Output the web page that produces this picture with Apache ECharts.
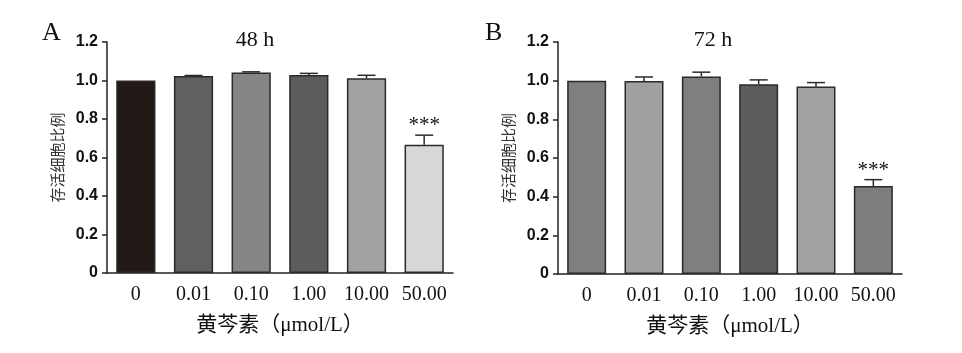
<!DOCTYPE html>
<html>
<head>
<meta charset="utf-8">
<script src="https://cdn.jsdelivr.net/npm/echarts@6/dist/echarts.min.js"></script>
<style>
  html, body { margin: 0; padding: 0; background: #fff; }
  #main { width: 962px; height: 353px; }
</style>
</head>
<body>
<div id="main"></div>
<script>
// 数据
var categories = ['0', '0.01', '0.10', '1.00', '10.00', '50.00'];
var yTicks = [0, 0.2, 0.4, 0.6, 0.8, 1.0, 1.2];

var values48 = [1.0, 1.023, 1.042, 1.028, 1.012, 0.666];
var errors48 = [0, 0.003, 0.003, 0.009, 0.015, 0.05];
var sig48 = ['', '', '', '', '', '***'];

var values72 = [1.0, 0.998, 1.022, 0.982, 0.970, 0.455];
var errors72 = [0, 0.021, 0.022, 0.022, 0.02, 0.033];
var sig72 = ['', '', '', '', '', '***'];

// 柱子颜色（按顺序）
var colors48 = ['#231a18', '#5f6161', '#858586', '#5b5d5d', '#a2a2a4', '#d6d8d7'];
var colors72 = ['#7f7f80', '#a0a0a2', '#7f7f80', '#5c5e5e', '#a2a2a4', '#7d7d7e'];

var serif = '"Liberation Serif", "Noto Sans CJK SC", serif';
var sans = '"Liberation Sans", Arial, sans-serif';

var myChart = echarts.init(document.getElementById('main'));

function xAxisOf(gridIndex) {
  return {
    type: 'category',
    gridIndex: gridIndex,
    data: categories,
    name: '黄芩素（μmol/L）',
    nameLocation: 'middle',
    nameGap: 42,
    nameTextStyle: { fontFamily: serif, fontSize: 21, color: '#111', verticalAlign: 'top' },
    axisLine: { lineStyle: { color: '#222', width: 1.5 } },
    axisTick: { alignWithLabel: true, length: 5, lineStyle: { color: '#222', width: 1.5 } },
    axisLabel: { interval: 0, hideOverlap: false, fontFamily: serif, fontSize: 20, color: '#111', margin: 12 },
    splitLine: { show: false }
  };
}

function yAxisOf(gridIndex) {
  return {
    type: 'value',
    gridIndex: gridIndex,
    min: yTicks[0],
    max: yTicks[yTicks.length - 1],
    interval: 0.2,
    name: '存活细胞比例',
    nameLocation: 'middle',
    nameGap: 42,
    nameRotate: 90,
    nameTextStyle: { fontFamily: '"Noto Sans CJK SC", sans-serif', fontSize: 15, color: '#333' },
    axisLine: { show: true, lineStyle: { color: '#222', width: 1.5 } },
    axisTick: { show: true, length: 5, lineStyle: { color: '#222', width: 1.5 } },
    axisLabel: {
      fontFamily: sans, fontSize: 16, fontWeight: 'bold', color: '#111', margin: 9,
      formatter: function (v) { return v === 0 ? '0' : v.toFixed(1); }
    },
    splitLine: { show: false }
  };
}

function barSeries(idx, values, colorList) {
  return {
    type: 'bar',
    xAxisIndex: idx,
    yAxisIndex: idx,
    barWidth: '68%',
    itemStyle: {
      borderColor: '#2a2a2a',
      borderWidth: 1.5,
      color: function (params) { return colorList[params.dataIndex]; }
    },
    data: values,
    z: 2
  };
}

// 误差线 + 显著性标记
function errSeries(idx, values, errors, sig) {
  return {
    type: 'custom',
    xAxisIndex: idx,
    yAxisIndex: idx,
    z: 3,
    data: values.map(function (v, i) { return [i, v, v + errors[i]]; }),
    renderItem: function (params, api) {
      var i = api.value(0);
      var base = api.coord([i, api.value(1)]);
      var top = api.coord([i, api.value(2)]);
      var half = 9;
      var children = [];
      if (errors[i] > 0) {
        children.push({
          type: 'line',
          shape: { x1: base[0], y1: base[1], x2: top[0], y2: top[1] },
          style: { stroke: '#2a2a2a', lineWidth: 1.5 }
        });
        children.push({
          type: 'line',
          shape: { x1: top[0] - half, y1: top[1], x2: top[0] + half, y2: top[1] },
          style: { stroke: '#2a2a2a', lineWidth: 1.5 }
        });
      }
      if (sig[i]) {
        children.push({
          type: 'text',
          style: {
            text: sig[i], x: top[0], y: top[1] + 1,
            align: 'center', verticalAlign: 'bottom',
            font: '21px ' + serif, fill: '#111'
          }
        });
      }
      return { type: 'group', children: children };
    }
  };
}

myChart.setOption({
  backgroundColor: '#fff',
  animation: false,
  title: [
    { text: 'A', left: 37, top: 15, textStyle: { fontFamily: serif, fontSize: 26, fontWeight: 'normal', color: '#111' } },
    { text: '48 h', left: 250, top: 24, textAlign: 'center', textStyle: { fontFamily: serif, fontSize: 22, fontWeight: 'normal', color: '#111' } },
    { text: 'B', left: 480, top: 15, textStyle: { fontFamily: serif, fontSize: 26, fontWeight: 'normal', color: '#111' } },
    { text: '72 h', left: 708, top: 24, textAlign: 'center', textStyle: { fontFamily: serif, fontSize: 22, fontWeight: 'normal', color: '#111' } }
  ],
  grid: [
    { left: 107, right: 509, top: 42, bottom: 80 },
    { left: 558, right: 60, top: 42, bottom: 79 }
  ],
  xAxis: [xAxisOf(0), xAxisOf(1)],
  yAxis: [yAxisOf(0), yAxisOf(1)],
  series: [
    barSeries(0, values48, colors48),
    errSeries(0, values48, errors48, sig48),
    barSeries(1, values72, colors72),
    errSeries(1, values72, errors72, sig72)
  ]
});
</script>
</body>
</html>
